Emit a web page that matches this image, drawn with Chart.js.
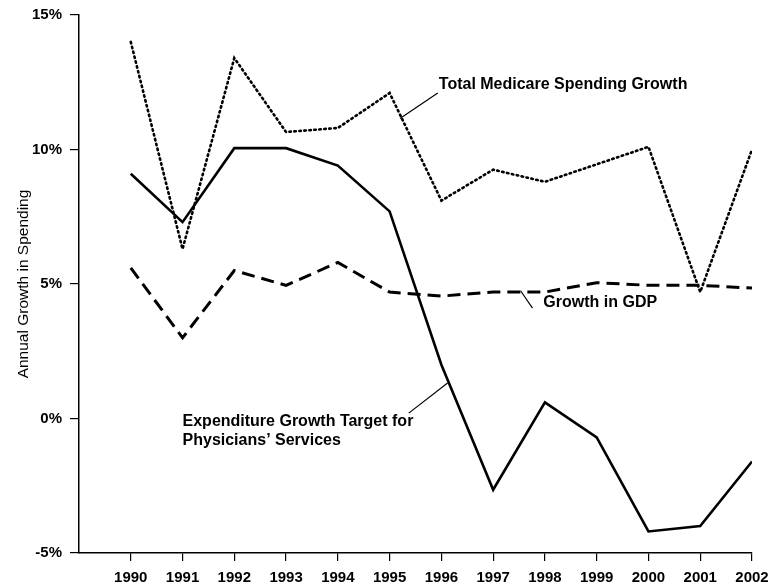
<!DOCTYPE html>
<html>
<head>
<meta charset="utf-8">
<script src="https://cdn.jsdelivr.net/npm/chart.js@4/dist/chart.umd.min.js"></script>
<style>
  html, body { margin: 0; padding: 0; background: #fff; }
  #wrap { position: relative; width: 771px; height: 585px; }
</style>
</head>
<body>
<div id="wrap"><canvas id="growthChart"></canvas></div>
<script>
// Du lieu doc tu hinh
const years = [1990, 1991, 1992, 1993, 1994, 1995, 1996, 1997, 1998, 1999, 2000, 2001, 2002];
const medicareGrowth = [14.0, 6.3, 13.4, 10.65, 10.8, 12.1, 8.1, 9.25, 8.8, 9.45, 10.1, 4.7, 10.0];
const physicianTarget = [9.1, 7.3, 10.05, 10.05, 9.4, 7.7, 2.0, -2.65, 0.6, -0.7, -4.2, -4.0, -1.6];
const gdpGrowth = [5.6, 3.0, 5.5, 4.95, 5.8, 4.7, 4.55, 4.7, 4.7, 5.05, 4.95, 4.95, 4.85];
const yTicks = [-5, 0, 5, 10, 15];

const FONT = '"Liberation Sans", Arial, Helvetica, sans-serif';

// Nhan chu thich: vi tri theo don vi du lieu (nam, %)
const notes = [
    { lines: ['Total Medicare Spending Growth'], x: 1995.95, y: 12.4, from: [1995.2, 11.15], to: [1995.93, 12.1] },
    { lines: ['Growth in GDP'], x: 1997.97, y: 4.3, from: [1997.53, 4.75], to: [1997.76, 4.1] },
    { lines: ['Expenditure Growth Target for', 'Physicians\u2019 Services'], x: 1991.0, y: -0.13, from: [1995.37, 0.2], to: [1996.12, 1.32] }
];

const toPoints = (arr) => arr.map((v, i) => ({ x: years[i], y: v }));

const notePlugin = {
    id: 'notes',
    afterDatasetsDraw(chart) {
        const { ctx, scales } = chart;
        ctx.save();
        ctx.fillStyle = '#000';
        ctx.strokeStyle = '#000';
        ctx.lineWidth = 1.2;
        ctx.font = 'bold 16px ' + FONT;
        ctx.textBaseline = 'middle';
        ctx.textAlign = 'left';
        notes.forEach(n => {
            const px = scales.x.getPixelForValue(n.x);
            const py = scales.y.getPixelForValue(n.y);
            n.lines.forEach((t, i) => ctx.fillText(t, px, py + i * 19));
            ctx.beginPath();
            ctx.moveTo(scales.x.getPixelForValue(n.from[0]), scales.y.getPixelForValue(n.from[1]));
            ctx.lineTo(scales.x.getPixelForValue(n.to[0]), scales.y.getPixelForValue(n.to[1]));
            ctx.stroke();
        });
        ctx.restore();
    }
};

const ctx = document.getElementById('growthChart').getContext('2d');
new Chart(ctx, {
    type: 'line',
    data: {
        datasets: [
            {
                label: 'Total Medicare Spending Growth',
                data: toPoints(medicareGrowth),
                borderColor: '#000',
                borderWidth: 2.6,
                borderDash: [1.5, 3.5],
                borderCapStyle: 'round',
                pointRadius: 0,
                tension: 0
            },
            {
                label: 'Expenditure Growth Target for Physicians\u2019 Services',
                data: toPoints(physicianTarget),
                borderColor: '#000',
                borderWidth: 2.6,
                pointRadius: 0,
                tension: 0
            },
            {
                label: 'Growth in GDP',
                data: toPoints(gdpGrowth),
                borderColor: '#000',
                borderWidth: 3,
                borderDash: [13, 7],
                pointRadius: 0,
                tension: 0
            }
        ]
    },
    options: {
        responsive: true,
        maintainAspectRatio: false,
        animation: false,
        layout: { padding: { top: 15, right: 19, bottom: 0, left: 0 } },
        plugins: {
            legend: { display: false },
            tooltip: { enabled: false }
        },
        scales: {
            x: {
                type: 'linear',
                min: 1989,
                max: 2002,
                afterBuildTicks: (scale) => { scale.ticks = years.map(v => ({ value: v })); },
                afterFit: (scale) => {
                    scale.height = 32;
                    scale.paddingLeft = 0;
                    scale.paddingRight = 0;
                },
                grid: { drawOnChartArea: false, color: '#000', tickLength: 8, lineWidth: 1.2 },
                border: { color: '#000', width: 1.5 },
                ticks: {
                    color: '#000',
                    padding: 8,
                    maxRotation: 0,
                    autoSkip: false,
                    font: { family: FONT, size: 15, weight: 'bold' },
                    callback: (v) => String(v)
                }
            },
            y: {
                min: -5,
                max: 15,
                afterBuildTicks: (scale) => { scale.ticks = yTicks.map(v => ({ value: v })); },
                afterFit: (scale) => {
                    scale.width = 79;
                    scale.paddingTop = 0;
                    scale.paddingBottom = 0;
                },
                grid: { drawOnChartArea: false, color: '#000', tickLength: 9, lineWidth: 1.2 },
                border: { color: '#000', width: 1.5 },
                title: {
                    display: true,
                    text: 'Annual Growth in Spending',
                    color: '#000',
                    font: { family: FONT, size: 15.5 },
                    padding: { top: 14, bottom: 0 }
                },
                ticks: {
                    color: '#000',
                    padding: 8,
                    font: { family: FONT, size: 15, weight: 'bold' },
                    callback: (v) => v + '%'
                }
            }
        }
    },
    plugins: [notePlugin]
});
</script>
</body>
</html>
